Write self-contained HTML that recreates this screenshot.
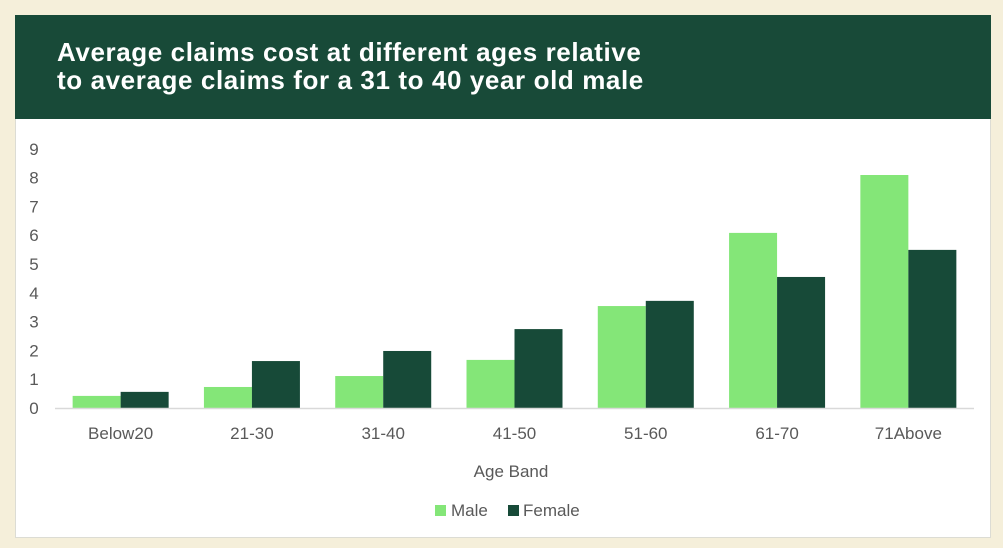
<!DOCTYPE html>
<html><head><meta charset="utf-8"><style>
body{margin:0;background:#f5efda;width:1003px;height:548px;overflow:hidden;font-family:"Liberation Sans",sans-serif}
#card{position:absolute;left:15px;top:15px;width:974px;height:522px;background:#fff;border:1px solid #dcdcd4;border-top:none}
#hdr{position:absolute;left:15px;top:15px;width:976px;height:104px;background:#184a38}
#hdr div{position:absolute;left:42px;top:23px;color:#fff;font-weight:bold;font-size:26px;line-height:28px;letter-spacing:0.6px}
svg{position:absolute;left:0;top:0}
</style></head><body>
<div id="card"></div>
<div id="hdr"><div>Average claims cost at different ages relative<br>to average claims for a 31 to 40 year old male</div></div>
<svg id="chart" width="1003" height="548"></svg>
<script>
const categories=["Below20","21-30","31-40","41-50","51-60","61-70","71Above"];
const maleValues=[0.42,0.73,1.11,1.67,3.54,6.08,8.09];
const femaleValues=[0.56,1.63,1.98,2.74,3.72,4.55,5.49];
const yTicks=[0,1,2,3,4,5,6,7,8,9];
const NS="http://www.w3.org/2000/svg";
const svg=document.getElementById('chart');
const x0=55,x1=974,y0=408,unit=28.8,bw=48;
const band=(x1-x0)/categories.length;
const y=v=>y0-v*unit;
function el(t,a,txt){const e=document.createElementNS(NS,t);for(const k in a)e.setAttribute(k,a[k]);if(txt!=null)e.textContent=txt;svg.appendChild(e);return e;}
yTicks.forEach(t=>{const e=el('text',{x:34,y:y(t)+6,'text-anchor':'middle','font-size':17,fill:'#595959'},t);

});
categories.forEach((c,i)=>{const cx=x0+band*(i+0.5);
const m=el('rect',{x:cx-bw,y:y(maleValues[i]),width:bw,height:maleValues[i]*unit,fill:'#84e678'});


const f=el('rect',{x:cx,y:y(femaleValues[i]),width:bw,height:femaleValues[i]*unit,fill:'#174a38'});


const t=el('text',{x:cx,y:439,'text-anchor':'middle','font-size':17,fill:'#595959'},c);

});
const ax=el('line',{x1:x0,x2:x1,y1:y0+0.5,y2:y0+0.5,stroke:'#d9d9d9','stroke-width':1.5});


const at=el('text',{x:511,y:477,'text-anchor':'middle','font-size':17,fill:'#595959'},'Age Band');


const l1=el('rect',{x:435,y:505,width:11,height:11,fill:'#84e678'});


const l1t=el('text',{x:451,y:516,'font-size':17,fill:'#595959'},'Male');


const l2=el('rect',{x:508,y:505,width:11,height:11,fill:'#174a38'});


const l2t=el('text',{x:523,y:516,'font-size':17,fill:'#595959'},'Female');


</script>
</body></html>
